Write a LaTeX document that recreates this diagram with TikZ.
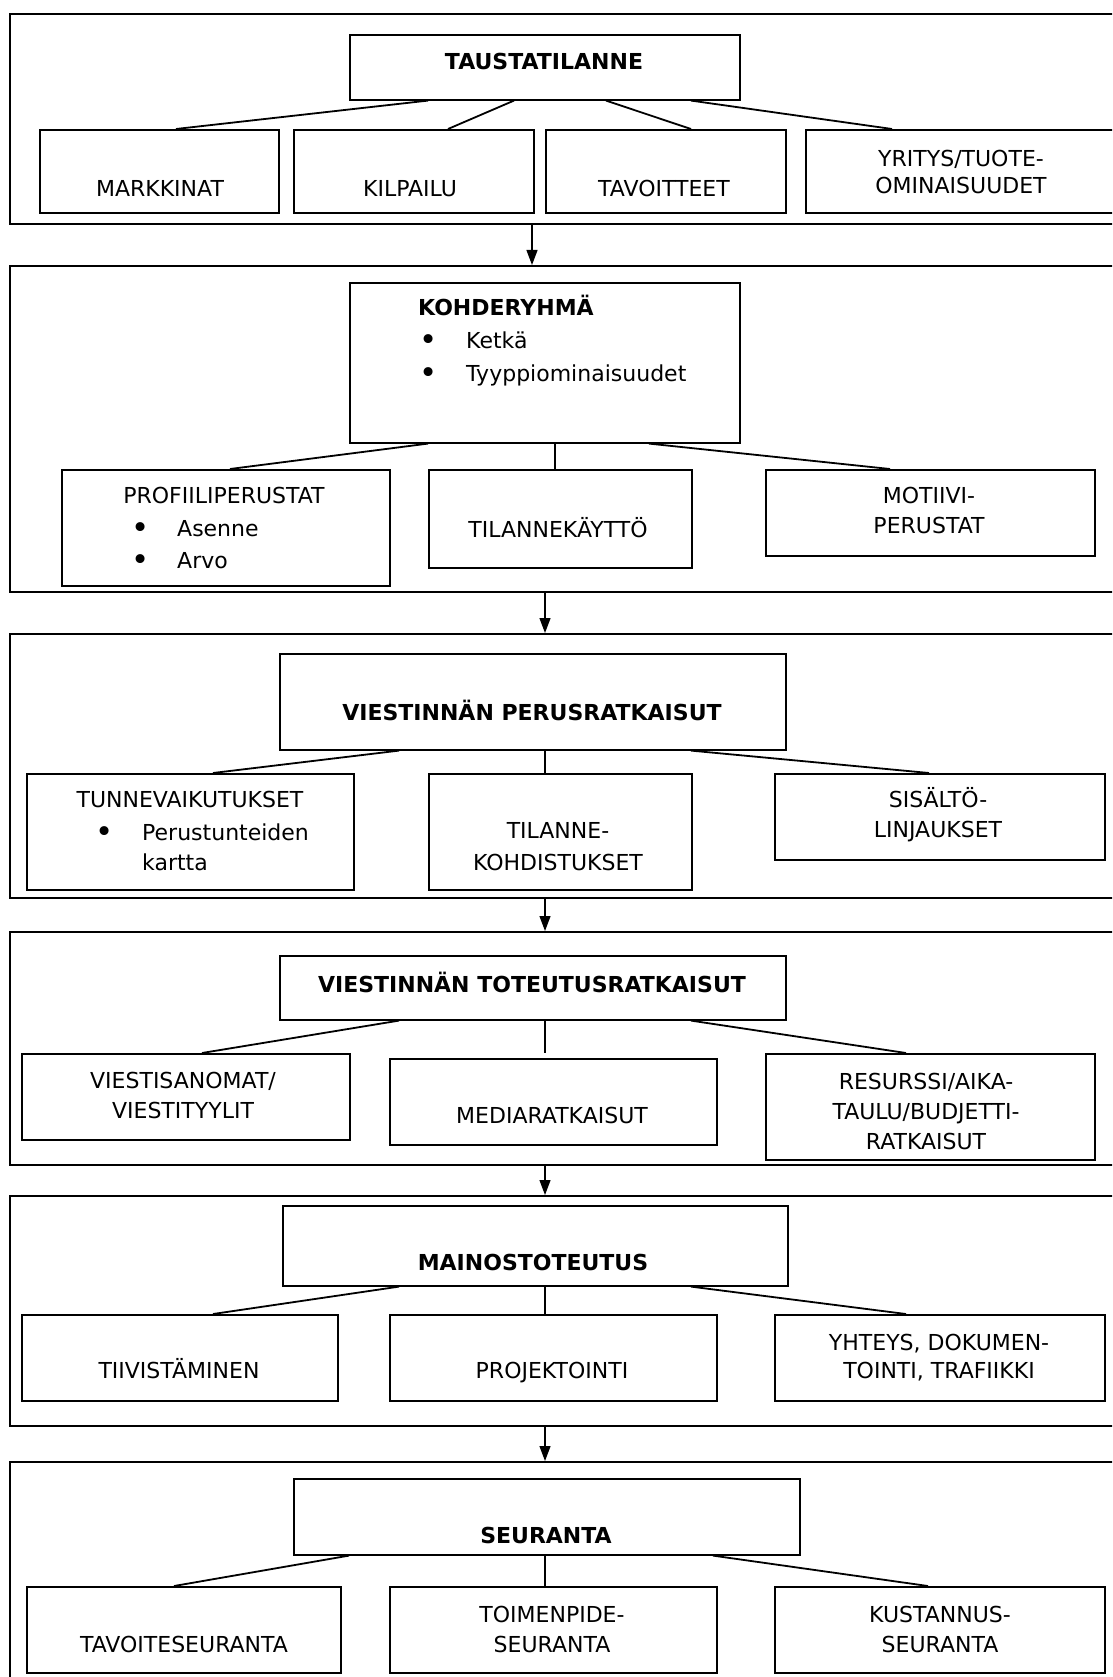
\documentclass[tikz,border=0pt]{standalone}
\usepackage{fontspec}
\setmainfont{DejaVu Sans}
\usetikzlibrary{arrows.meta}
\newcommand{\blt}{\raisebox{-2pt}{\scalebox{1.4}{\textbullet}}}

\begin{document}
\begin{tikzpicture}[x=1pt, y=-1pt,
  box/.style={draw, line width=1.6pt, inner sep=0pt, anchor=north west},
  conn/.style={line width=1.8pt},
  vconn/.style={line width=1.2pt},
  arr/.style={line width=1.2pt, -{Triangle[length=15pt,width=11pt]}},
  txt/.style={inner sep=0pt, anchor=base, align=center, font=\fontsize{22}{30}\selectfont},
  ltxt/.style={inner sep=0pt, anchor=base west, align=left, font=\fontsize{22}{31}\selectfont}]
\useasboundingbox (0,0) rectangle (1112,1677);
\clip (0,0) rectangle (1112,1677);
% outer frames, one per stage
\foreach \n/\a/\b/\c/\d in {f1/9/13/1130/223, f2/9/265/1130/591, f3/9/633/1130/897,
    f4/9/931/1130/1164, f5/9/1195/1130/1425, f6/9/1461/1130/1700}
  \node[box, minimum width={\c-\a}, minimum height={\d-\b}] (\n) at (\a,\b) {};
% boxes inside the frames
\foreach \n/\a/\b/\c/\d in {taus/349/34/739/99, markk/39/129/278/212, kilp/293/129/533/212,
    tavo/545/129/785/212, yrit/805/129/1130/212,
    kohde/349/282/739/442, profi/61/469/389/585, tilk/428/469/691/567, motii/765/469/1094/555,
    vper/279/653/785/749, tunne/26/773/353/889, tkoh/428/773/691/889, sisa/774/773/1104/859,
    vtot/279/955/785/1019, vsan/21/1053/349/1139, media/389/1058/716/1144, resu/765/1053/1094/1159,
    mainos/282/1205/787/1285, tiiv/21/1314/337/1400, proj/389/1314/716/1400, yhte/774/1314/1104/1400,
    seur/293/1478/799/1554, tavs/26/1586/340/1672, toim/389/1586/716/1672, kust/774/1586/1104/1672}
  \node[box, minimum width={\c-\a}, minimum height={\d-\b}] (\n) at (\a,\b) {};
% links from each head box to its sub boxes
\foreach \p/\c/\u/\v in {taus/markk/428/176, taus/kilp/514/448, taus/tavo/606/691, taus/yrit/691/892,
    kohde/profi/428/230, kohde/motii/649/890,
    vper/tunne/399/213, vper/sisa/691/929,
    vtot/vsan/399/202, vtot/resu/691/906,
    mainos/tiiv/399/213, mainos/yhte/691/906,
    seur/tavs/349/174, seur/kust/713/928}
  \draw[conn] (\p.south -| \u,0) -- (\c.north -| \v,0);
\foreach \p/\c/\u in {kohde/tilk/555, vper/tkoh/545, vtot/vsan/545, mainos/proj/545, seur/toim/545}
  \draw[vconn] (\p.south -| \u,0) -- (\c.north -| \u,0);
% arrows between the stages
\coordinate (a1) at (532,0);
\coordinate (a2) at (545,0);
\draw[arr] (f1.south -| a1) -- (f2.north -| a1);
\foreach \s/\t in {f2/f3, f3/f4, f4/f5, f5/f6}
  \draw[arr] (\s.south -| a2) -- (\t.north -| a2);
% stage 1 (multi-line texts sit on the baseline of their last line)
\node[txt] (taus-t) at (544,70) {\textbf{TAUSTATILANNE}};
\node[txt] (markk-t) at (160,197) {MARKKINAT};
\node[txt] (kilp-t) at (410,197) {KILPAILU};
\node[txt] (tavo-t) at (664,197) {TAVOITTEET};
\node[txt, font=\fontsize{22}{27}\selectfont] (yrit-t) at (961,194) {YRITYS/TUOTE-\\OMINAISUUDET};
% stage 2
\node[ltxt, font=\fontsize{22}{33}\selectfont] (kohde-t) at (418,381)
  {\textbf{KOHDERYHMÄ}\\\hspace*{1pt}\makebox[47pt][l]{\blt}Ketkä\\\hspace*{1pt}\makebox[47pt][l]{\blt}Tyyppiominaisuudet};
\node[txt] (profi-t) at (224,503) {PROFIILIPERUSTAT};
\node[ltxt, font=\fontsize{22}{32}\selectfont] (profi-l) at (131,568)
  {\makebox[46pt][l]{\blt}Asenne\\\makebox[46pt][l]{\blt}Arvo};
\node[txt] (tilk-t) at (558,537) {TILANNEKÄYTTÖ};
\node[txt] (motii-t) at (929,533) {MOTIIVI-\\PERUSTAT};
% stage 3
\node[txt] (vper-t) at (532,720) {\textbf{VIESTINNÄN PERUSRATKAISUT}};
\node[txt] (tunne-t) at (190,807) {TUNNEVAIKUTUKSET};
\node[ltxt, font=\fontsize{22}{30}\selectfont] (tunne-l) at (95,870)
  {\makebox[47pt][l]{\blt}Perustunteiden\\\hspace*{47pt}kartta};
\node[txt, font=\fontsize{22}{32}\selectfont] (tkoh-t) at (558,870) {TILANNE-\\KOHDISTUKSET};
\node[txt] (sisa-t) at (938,837) {SISÄLTÖ-\\LINJAUKSET};
% stage 4
\node[txt] (vtot-t) at (532,992) {\textbf{VIESTINNÄN TOTEUTUSRATKAISUT}};
\node[txt] (vsan-t) at (183,1118) {VIESTISANOMAT/\\VIESTITYYLIT};
\node[txt] (media-t) at (552,1123) {MEDIARATKAISUT};
\node[txt] (resu-t) at (926,1149) {RESURSSI/AIKA-\\TAULU/BUDJETTI-\\RATKAISUT};
% stage 5
\node[txt] (mainos-t) at (533,1270) {\textbf{MAINOSTOTEUTUS}};
\node[txt] (tiiv-t) at (179,1378) {TIIVISTÄMINEN};
\node[txt] (proj-t) at (552,1378) {PROJEKTOINTI};
\node[txt, font=\fontsize{22}{28}\selectfont] (yhte-t) at (939,1378) {YHTEYS, DOKUMEN-\\TOINTI, TRAFIIKKI};
% stage 6
\node[txt] (seur-t) at (546,1543) {\textbf{SEURANTA}};
\node[txt] (tavs-t) at (184,1652) {TAVOITESEURANTA};
\node[txt] (toim-t) at (552,1652) {TOIMENPIDE-\\SEURANTA};
\node[txt] (kust-t) at (940,1652) {KUSTANNUS-\\SEURANTA};
\end{tikzpicture}
\end{document}
